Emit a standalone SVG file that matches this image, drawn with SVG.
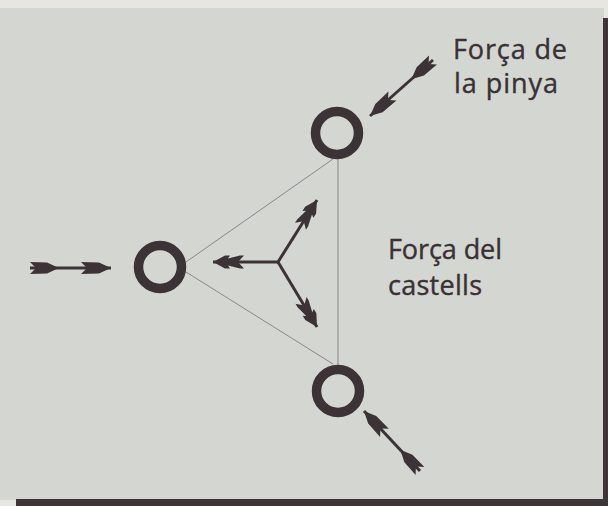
<svg xmlns="http://www.w3.org/2000/svg" width="608" height="506" viewBox="0 0 608 506">
<style>
.ring{fill:none;stroke:#3c3336;stroke-width:9.5}
.tie{stroke:#8c8688;stroke-width:1;fill:none}
.force{stroke:#3c3336;stroke-width:3;fill:none;marker-start:url(#fletch);marker-end:url(#head)}
.react{stroke:#3c3336;stroke-width:3;fill:none;marker-end:url(#head2)}
.lbl{font-family:"Open Sans","DejaVu Sans",sans-serif;font-size:27px;fill:#3a3135;stroke:#3a3135;stroke-width:0.4}
</style>
<defs>
<marker id="head" markerUnits="userSpaceOnUse" orient="auto" refX="0" refY="0" markerWidth="40" markerHeight="20" overflow="visible">
<path d="M0,0 L-12,-5.5 L-30,-6 L-24,0 L-30,6 L-12,5.5 Z" fill="#3c3336"/>
</marker>
<marker id="fletch" markerUnits="userSpaceOnUse" orient="auto" refX="0" refY="0" markerWidth="40" markerHeight="20" overflow="visible">
<path d="M29,0 L17,-5.5 L0,-6 L6,0 L0,6 L17,5.5 Z" fill="#3c3336"/>
</marker>
<marker id="head2" markerUnits="userSpaceOnUse" orient="auto" refX="0" refY="0" markerWidth="40" markerHeight="20" overflow="visible">
<path d="M0,0 L-12,-6.5 L-17,-6.5 L-15,-3.5 L-27,-6.5 L-31,-6.5 L-25,0 L-31,6.5 L-27,6.5 L-15,3.5 L-17,6.5 L-12,6.5 Z" fill="#3c3336"/>
</marker>
</defs>
<rect x="0" y="0" width="608" height="506" fill="#e8e6e1"/>
<rect x="0" y="8" width="604" height="492" fill="#d4d6d2"/>
<rect x="603" y="18" width="5" height="488" fill="#3e3538"/>
<rect x="16" y="499" width="592" height="7" fill="#3e3538"/>
<g id="connectors">
<line class="tie" x1="186" y1="262" x2="333" y2="159"/>
<line class="tie" x1="186" y1="272" x2="333" y2="364"/>
<line class="tie" x1="338" y1="159" x2="338" y2="365"/>
</g>
<g id="arrows">
<line class="force" x1="30" y1="268" x2="111" y2="268"/>
<line class="force" x1="433" y1="60" x2="370" y2="116"/>
<line class="force" x1="420" y1="471" x2="364" y2="411"/>
<line class="react" x1="278" y1="262" x2="213" y2="262"/>
<line class="react" x1="278" y1="262" x2="317" y2="200"/>
<line class="react" x1="278" y1="262" x2="317" y2="327"/>
</g>
<g id="node-top"><circle class="ring" cx="337" cy="133" r="21.5"/></g>
<g id="node-left"><circle class="ring" cx="160" cy="267" r="21.5"/></g>
<g id="node-bottom"><circle class="ring" cx="338" cy="391" r="21.5"/></g>
<g id="label-pinya">
<text class="lbl" x="453" y="58.5" textLength="114">Força de</text>
<text class="lbl" x="454" y="93" textLength="104">la pinya</text>
</g>
<g id="label-castells">
<text class="lbl" x="388" y="258.5" textLength="114">Força del</text>
<text class="lbl" x="388" y="295" textLength="94">castells</text>
</g>
</svg>
